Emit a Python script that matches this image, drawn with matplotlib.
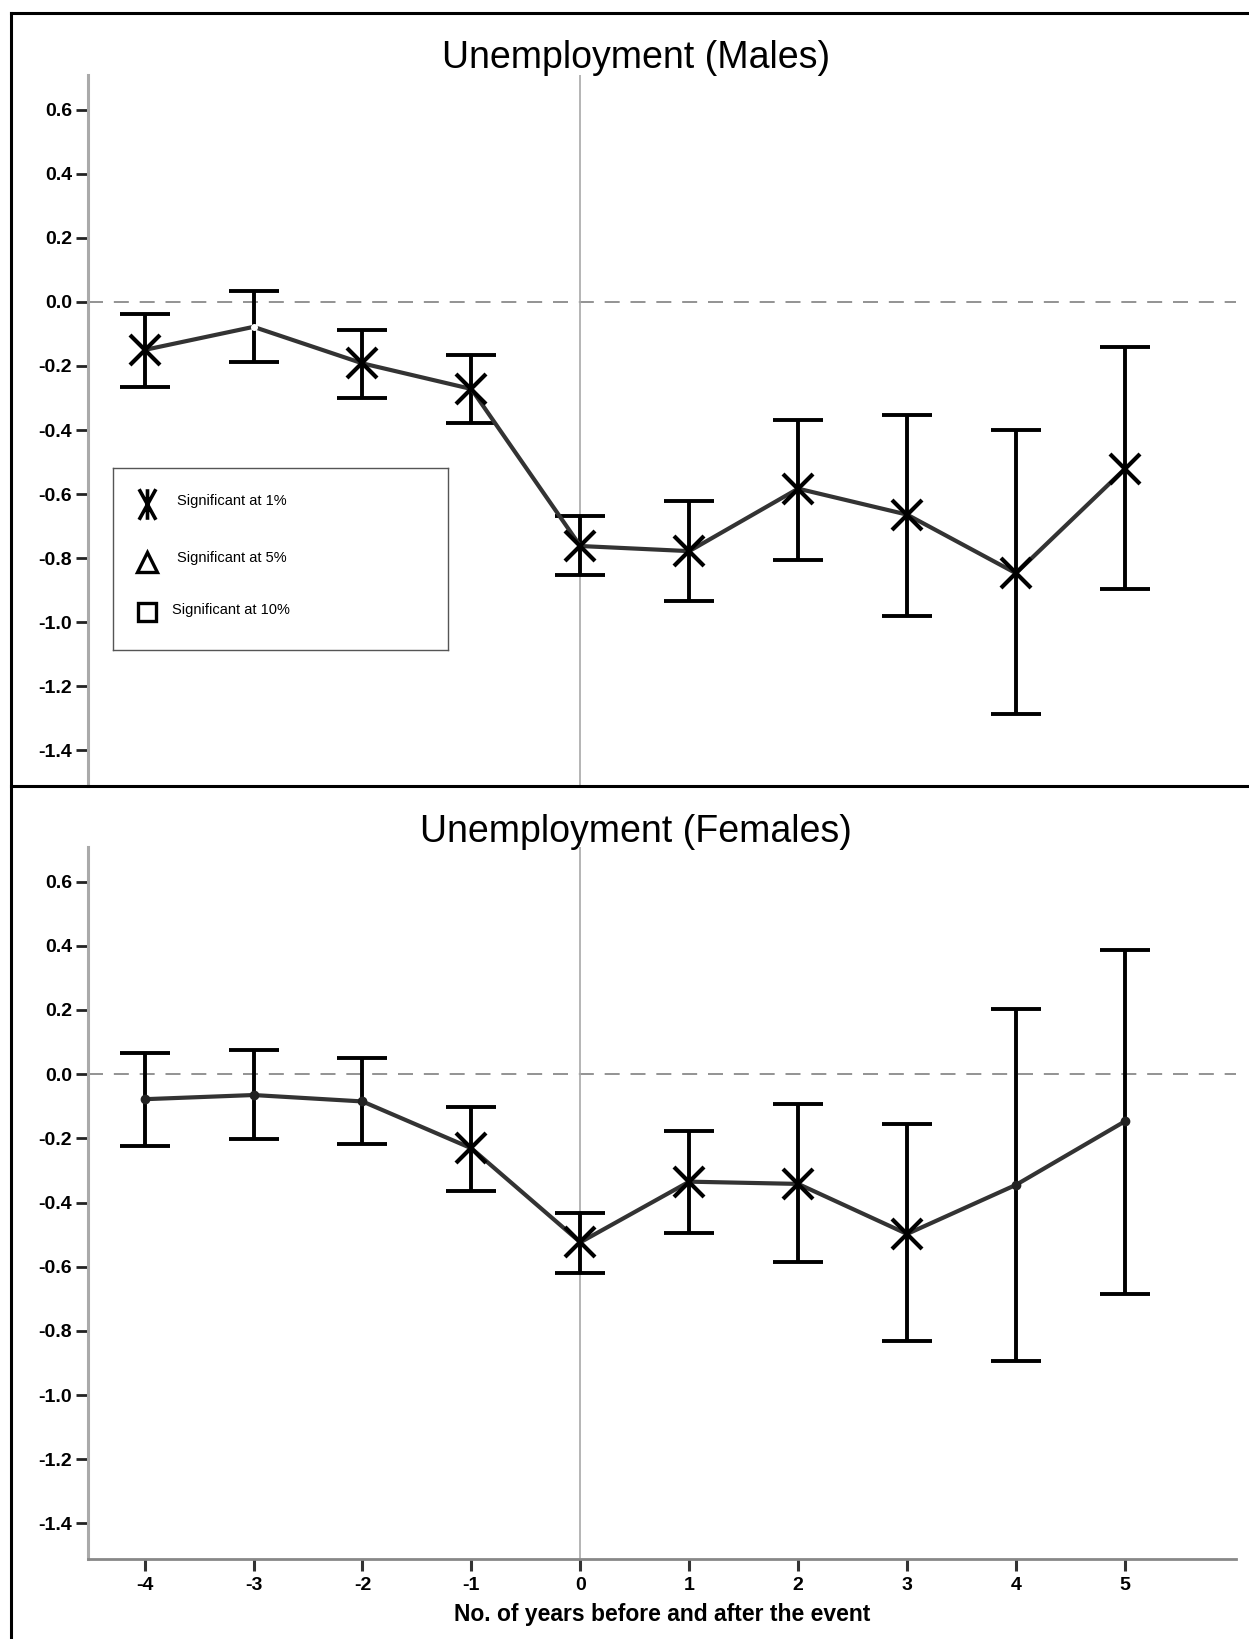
"""Event-study plot of unemployment effects for males and females."""

import matplotlib
matplotlib.use('Agg')
import matplotlib.pyplot as plt
from matplotlib.path import Path
import numpy as np

# Years relative to the event.
years = [-4, -3, -2, -1, 0, 1, 2, 3, 4, 5]

# Males: point estimates and confidence bounds.
male_est = [-0.150, -0.078, -0.192, -0.272, -0.762, -0.778, -0.583, -0.664, -0.847, -0.521]
male_low = [-0.267, -0.189, -0.300, -0.377, -0.853, -0.935, -0.805, -0.980, -1.287, -0.896]
male_high = [-0.039, 0.033, -0.088, -0.166, -0.668, -0.622, -0.368, -0.352, -0.401, -0.140]
male_sig = [True, False, True, True, True, True, True, True, True, True]

# Females: point estimates and confidence bounds.
female_est = [-0.078, -0.065, -0.085, -0.231, -0.524, -0.335, -0.342, -0.498, -0.345, -0.147]
female_low = [-0.225, -0.202, -0.218, -0.365, -0.619, -0.495, -0.586, -0.831, -0.893, -0.684]
female_high = [0.065, 0.075, 0.049, -0.101, -0.433, -0.176, -0.094, -0.156, 0.202, 0.388]
female_sig = [False, False, False, True, True, True, True, True, False, False]

y_ticks = [0.6, 0.4, 0.2, 0.0, -0.2, -0.4, -0.6, -0.8, -1.0, -1.2, -1.4]
y_tick_labels = ['0.6', '0.4', '0.2', '0.0', '-0.2', '-0.4', '-0.6', '-0.8',
                 '-1.0', '-1.2', '-1.4']

legend_labels = ['Significant at 1%', 'Significant at 5%', 'Significant at 10%']

W, H = 1249.0, 1639.0
BOLD = ['Liberation Sans', 'DejaVu Sans']

# Tall "X with a stem" symbol used in the legend.
STAR_MARKER = Path(
    [(-0.55, -1), (0.55, 1), (-0.55, 1), (0.55, -1), (0, -1), (0, 1)],
    [Path.MOVETO, Path.LINETO, Path.MOVETO, Path.LINETO, Path.MOVETO,
     Path.LINETO]
)


def fig_box(left, top, right, bottom):
    """Convert a pixel box to figure fractions."""
    return [left / W, 1 - bottom / H, (right - left) / W, (bottom - top) / H]


def draw_panel(ax, est, low, high, sig, white_insig):
    """Draw one panel of estimates with error bars."""
    est = np.array(est)
    yerr = [est - np.array(low), np.array(high) - est]

    ax.set_xlim(-4.52, 6.02)
    ax.set_ylim(-1.511, 0.708)

    ax.axhline(0, color='#808080', lw=1.2, linestyle=(0, (9, 6.5)), zorder=1)
    ax.axvline(0, color='#a8a8a8', lw=1.2, zorder=1)

    ax.errorbar(years, est, yerr=yerr, fmt='none', ecolor='black',
                elinewidth=2.8, capsize=18, capthick=2.8, zorder=2)
    ax.plot(years, est, color='#333333', lw=3.0, zorder=3)

    xs = [x for x, s in zip(years, sig) if s]
    ys = [y for y, s in zip(est, sig) if s]
    ax.plot(xs, ys, linestyle='', marker='x', markersize=21,
            markeredgewidth=3.0, color='black', zorder=4)
    xn = [x for x, s in zip(years, sig) if not s]
    yn = [y for y, s in zip(est, sig) if not s]
    if white_insig:
        ax.plot(xn, yn, linestyle='', marker='o', markersize=4,
                color='white', zorder=4)
    else:
        ax.plot(xn, yn, linestyle='', marker='o', markersize=6,
                color='#222222', zorder=4)

    for side in ['top', 'right', 'bottom']:
        ax.spines[side].set_visible(False)
    ax.spines['left'].set_color('#aaaaaa')
    ax.spines['left'].set_linewidth(2.2)

    ax.set_yticks(y_ticks)
    ax.set_yticklabels(y_tick_labels, family=BOLD, fontweight='bold',
                       fontsize=14)
    ax.tick_params(axis='y', direction='out', length=8.6, width=2.0,
                   color='#222222', pad=3)


def draw_legend(fig):
    """Draw the significance legend box."""
    lax = fig.add_axes(fig_box(113, 468, 448, 650))
    lax.set_xlim(0, 1)
    lax.set_ylim(0, 1)
    lax.set_xticks([])
    lax.set_yticks([])
    for sp in lax.spines.values():
        sp.set_color('#555555')
        sp.set_linewidth(1.0)

    rows = [0.80, 0.485, 0.20]
    lax.plot(0.1, rows[0], marker=STAR_MARKER, markersize=22,
             markeredgewidth=2.6, color='black', linestyle='')
    lax.plot(0.1, rows[1], marker='^', markersize=15, markeredgewidth=2.4,
             markerfacecolor='white', color='black', linestyle='')
    lax.plot(0.1, rows[2] + 0.01, marker='s', markersize=13,
             markeredgewidth=2.4, markerfacecolor='white', color='black',
             linestyle='')
    text_x = [0.19, 0.19, 0.175]
    for x, y, label in zip(text_x, rows, legend_labels):
        lax.text(x, y + 0.02, label, family=BOLD, fontsize=10.5,
                 va='center', ha='left')


def main():
    """Drive the script."""
    fig = plt.figure(figsize=(W / 100, H / 100), dpi=100)

    ax_top = fig.add_axes(fig_box(88, 75, 1236, 786))
    draw_panel(ax_top, male_est, male_low, male_high, male_sig, True)
    ax_top.set_xticks([])

    ax_bot = fig.add_axes(fig_box(88, 847, 1236, 1559))
    draw_panel(ax_bot, female_est, female_low, female_high, female_sig, False)
    ax_bot.spines['bottom'].set_visible(True)
    ax_bot.spines['bottom'].set_color('#888888')
    ax_bot.spines['bottom'].set_linewidth(2.0)
    ax_bot.set_xticks(years)
    ax_bot.set_xticklabels([str(y) for y in years], family=BOLD,
                           fontweight='bold', fontsize=14)
    ax_bot.tick_params(axis='x', direction='out', length=8.6, width=2.2,
                       color='#333333', pad=4)
    ax_bot.set_xlabel('No. of years before and after the event',
                      family=BOLD, fontweight='bold', fontsize=16.5,
                      labelpad=7)

    fig.text(636 / W, 1 - 58 / H, 'Unemployment (Males)', family=BOLD,
             fontsize=27, ha='center', va='center')
    fig.text(636 / W, 1 - 832 / H, 'Unemployment (Females)', family=BOLD,
             fontsize=27, ha='center', va='center')

    draw_legend(fig)

    # Outer frame lines.
    frame = dict(color='black', lw=2.2, transform=fig.transFigure)
    fig.add_artist(plt.Line2D([11 / W, 11 / W], [0, 1 - 13 / H], **frame))
    fig.add_artist(plt.Line2D([11 / W, 1], [1 - 13 / H, 1 - 13 / H], **frame))
    fig.add_artist(plt.Line2D([11 / W, 1], [1 - 786 / H, 1 - 786 / H],
                              **frame))

    fig.savefig('out.png', dpi=100)


if __name__ == '__main__':
    main()
